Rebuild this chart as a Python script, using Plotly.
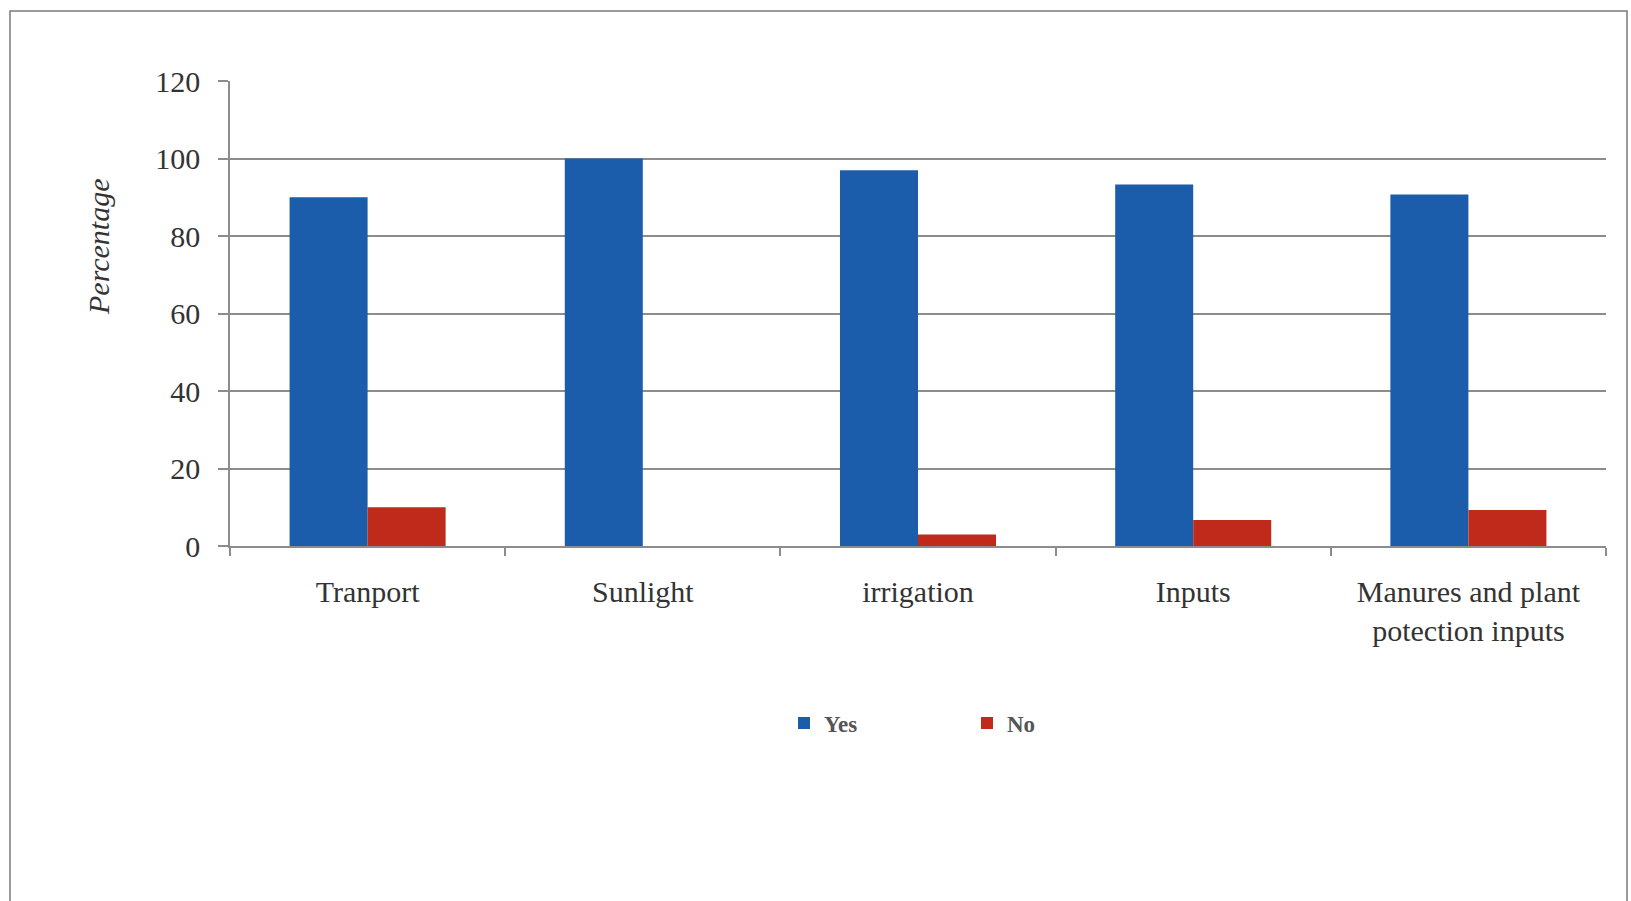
import plotly.graph_objects as go

# Share of respondents answering Yes / No for each factor
categories = ["Tranport", "Sunlight", "irrigation", "Inputs",
              "Manures and plant<br>potection inputs"]
yes_values = [90, 100, 97, 93.3, 90.7]
no_values = [10, 0, 3, 6.7, 9.3]
y_ticks = [0, 20, 40, 60, 80, 100, 120]

W, H = 1631, 901
L, R, T, B = 230, 25, 81, 355
pw, ph = W - L - R, H - T - B

serif = "Liberation Serif, Times New Roman, serif"
text_col = "#333333"
grid_col = "#8c8c8c"

fig = go.Figure()
fig.add_trace(go.Bar(
    name="Yes", x=categories, y=yes_values,
    marker=dict(color="#1c5dab", line=dict(width=0)),
))
fig.add_trace(go.Bar(
    name="No", x=categories, y=no_values,
    marker=dict(color="#bf2a1a", line=dict(width=0)),
))


def px_x(p):
    return (p - L) / pw


def px_y(p):
    return (H - B - p) / ph


# outer frame around the chart
fig.add_shape(type="rect", xref="paper", yref="paper",
              x0=px_x(10), x1=px_x(1627), y0=px_y(11), y1=px_y(905),
              line=dict(color="#7a7a7a", width=1.5), layer="below")

# y-axis title, set slightly above the middle of the axis
fig.add_annotation(text="<i>Percentage</i>", textangle=-90,
                   xref="paper", yref="paper", x=px_x(99), y=px_y(247),
                   xanchor="center", yanchor="middle", showarrow=False,
                   font=dict(family=serif, size=30, color=text_col))

fig.update_layout(
    width=W, height=H,
    margin=dict(l=L, r=R, t=T, b=B, autoexpand=False),
    paper_bgcolor="white", plot_bgcolor="white",
    barmode="group", bargap=0.433, bargroupgap=0,
    font=dict(family=serif, size=30, color=text_col),
    showlegend=True,
    legend=dict(
        orientation="h", x=px_x(784), y=px_y(723),
        xanchor="left", yanchor="middle",
        font=dict(family=serif, size=23, color="#555555", weight="bold"),
        entrywidth=138, entrywidthmode="pixels",
        itemwidth=30, bgcolor="rgba(0,0,0,0)",
    ),
    xaxis=dict(
        showgrid=False, showline=True, linecolor=grid_col, linewidth=1.5,
        ticks="outside", tickson="boundaries", ticklen=8,
        tickcolor=grid_col, tickwidth=1.5, ticklabelstandoff=18,
        tickfont=dict(family=serif, size=30, color=text_col),
    ),
    yaxis=dict(
        range=[0, 120], tickvals=y_ticks,
        showgrid=True, gridcolor=grid_col, gridwidth=1.5,
        showline=True, linecolor=grid_col, linewidth=1.5,
        ticks="outside", ticklen=10, tickcolor=grid_col, tickwidth=1.5,
        ticklabelstandoff=12, zeroline=False,
        tickfont=dict(family=serif, size=30, color=text_col),
    ),
)

fig.write_html("out.html")
